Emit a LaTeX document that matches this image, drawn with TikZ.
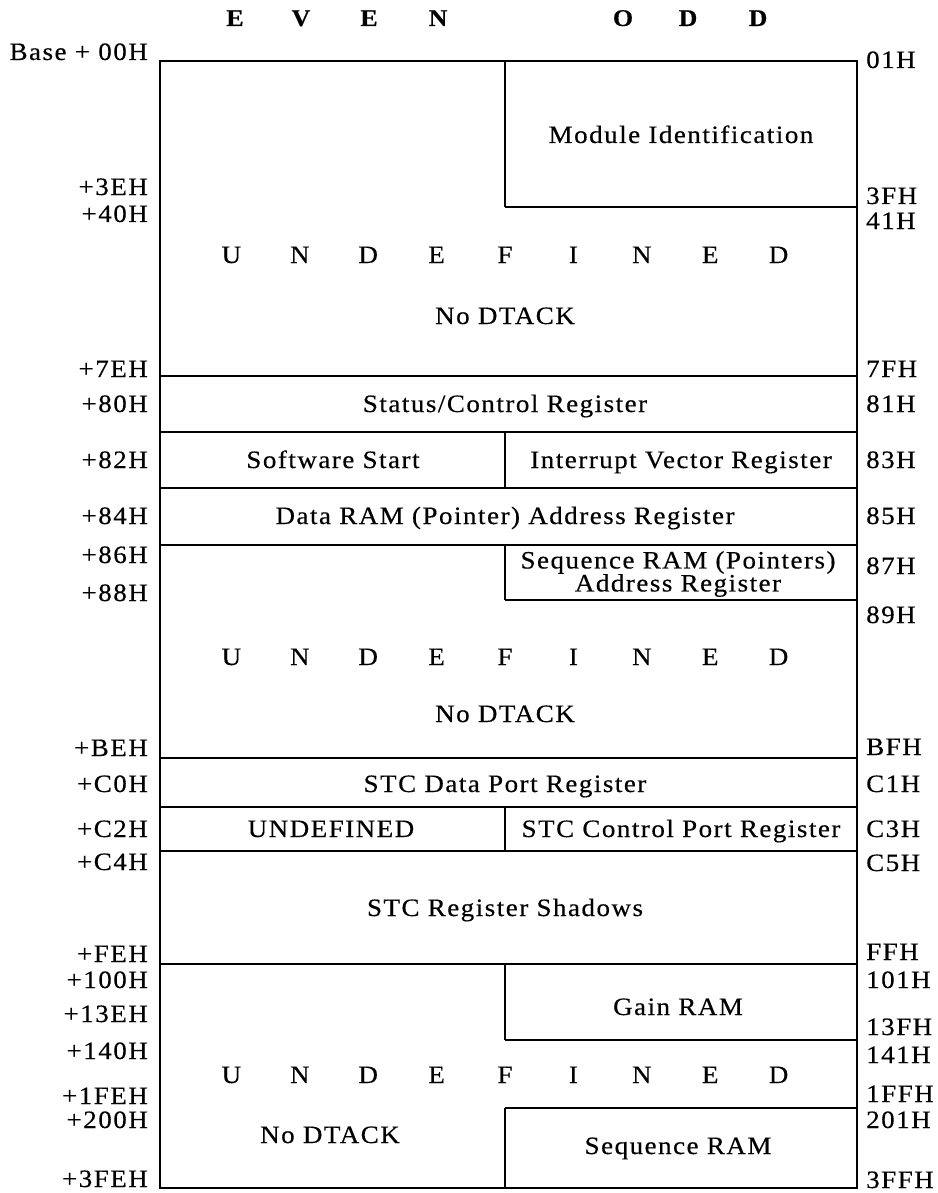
\documentclass[tikz,border=0pt]{standalone}
\usepackage{fontspec}
\setmainfont{Liberation Serif}[FakeStretch=1.08,LetterSpace=6,FakeBold=0.4]
\begin{document}
\begin{tikzpicture}[x=1pt,y=-1pt,
  frame/.style={line width=2pt},
  txt/.style={inner sep=0pt,text height=16pt,text depth=0pt,font=\fontsize{25}{23}\selectfont},
  lab/.style={txt,anchor=east},
  rab/.style={txt,anchor=west},
  two/.style={inner sep=0pt,align=center,font=\fontsize{25}{23}\selectfont},
  hdr/.style={inner sep=0pt,text height=16pt,text depth=0pt,font=\fontsize{24}{28}\selectfont\bfseries}]
\useasboundingbox (0,0) rectangle (937,1193);
% frame and dividers
\draw[frame] (160,61) rectangle (857,1188);
\foreach \y in {376,432,488,545,758,807,851,964}
  \draw[frame] (160,\y) -- (857,\y);
\foreach \y in {207,600,1040,1108}
  \draw[frame] (505,\y) -- (857,\y);
\draw[frame] (505,61) -- (505,207);
\draw[frame] (505,432) -- (505,488);
\draw[frame] (505,545) -- (505,600);
\draw[frame] (505,807) -- (505,851);
\draw[frame] (505,964) -- (505,1040);
\draw[frame] (505,1108) -- (505,1188);
% header
\foreach \x/\c [count=\i] in {235/E,301/V,369/E,438/N,623/O,688/D,758/D}
  \node[hdr] (h\i) at (\x,18) {\c};
% undefined rows
\foreach \yy/\r in {255/a,657/b,1075/c}
  \foreach \c [count=\i from 0] in {U,N,D,E,F,I,N,E,D}
    \node[txt] (u\r\i) at ({505+68.4*(\i-4)},\yy) {\c};
% left labels
\foreach \y/\t [count=\i] in {52/Base + 00H,187/+3EH,214/+40H,369/+7EH,404/+80H,460/+82H,516/+84H,555/+86H,593/+88H,748/+BEH,784/+C0H,829/+C2H,862/+C4H,954/+FEH,980/+100H,1014/+13EH,1051/+140H,1096/+1FEH,1120/+200H,1179/+3FEH}
  \node[lab] (l\i) at (148,\y) {\t};
% right labels
\foreach \y/\t [count=\i] in {60/01H,196/3FH,221/41H,369/7FH,404/81H,460/83H,516/85H,566/87H,615/89H,747/BFH,784/C1H,829/C3H,863/C5H,952/FFH,980/101H,1027/13FH,1055/141H,1094/1FFH,1120/201H,1180/3FFH}
  \node[rab] (r\i) at (866,\y) {\t};
% centre texts
\node[txt] (modid) at (681,135) {Module Identification};
\node[txt] (nd1) at (505,316) {No DTACK};
\node[txt] (stat) at (505,404) {Status/Control Register};
\node[txt] (swst) at (333,460) {Software Start};
\node[txt] (ivr) at (681,460) {Interrupt Vector Register};
\node[txt] (dram) at (505,516) {Data RAM (Pointer) Address Register};
\node[two] (sram) at (678,574) {Sequence RAM (Pointers)\\Address Register};
\node[txt] (nd2) at (505,714) {No DTACK};
\node[txt] (stcd) at (505,784) {STC Data Port Register};
\node[txt] (undf) at (331,829) {UNDEFINED};
\node[txt] (stcc) at (681,829) {STC Control Port Register};
\node[txt] (stcs) at (505,908) {STC Register Shadows};
\node[txt] (gain) at (678,1007) {Gain RAM};
\node[txt] (nd3) at (330,1135) {No DTACK};
\node[txt] (seqr) at (678,1146) {Sequence RAM};
\end{tikzpicture}
\end{document}
